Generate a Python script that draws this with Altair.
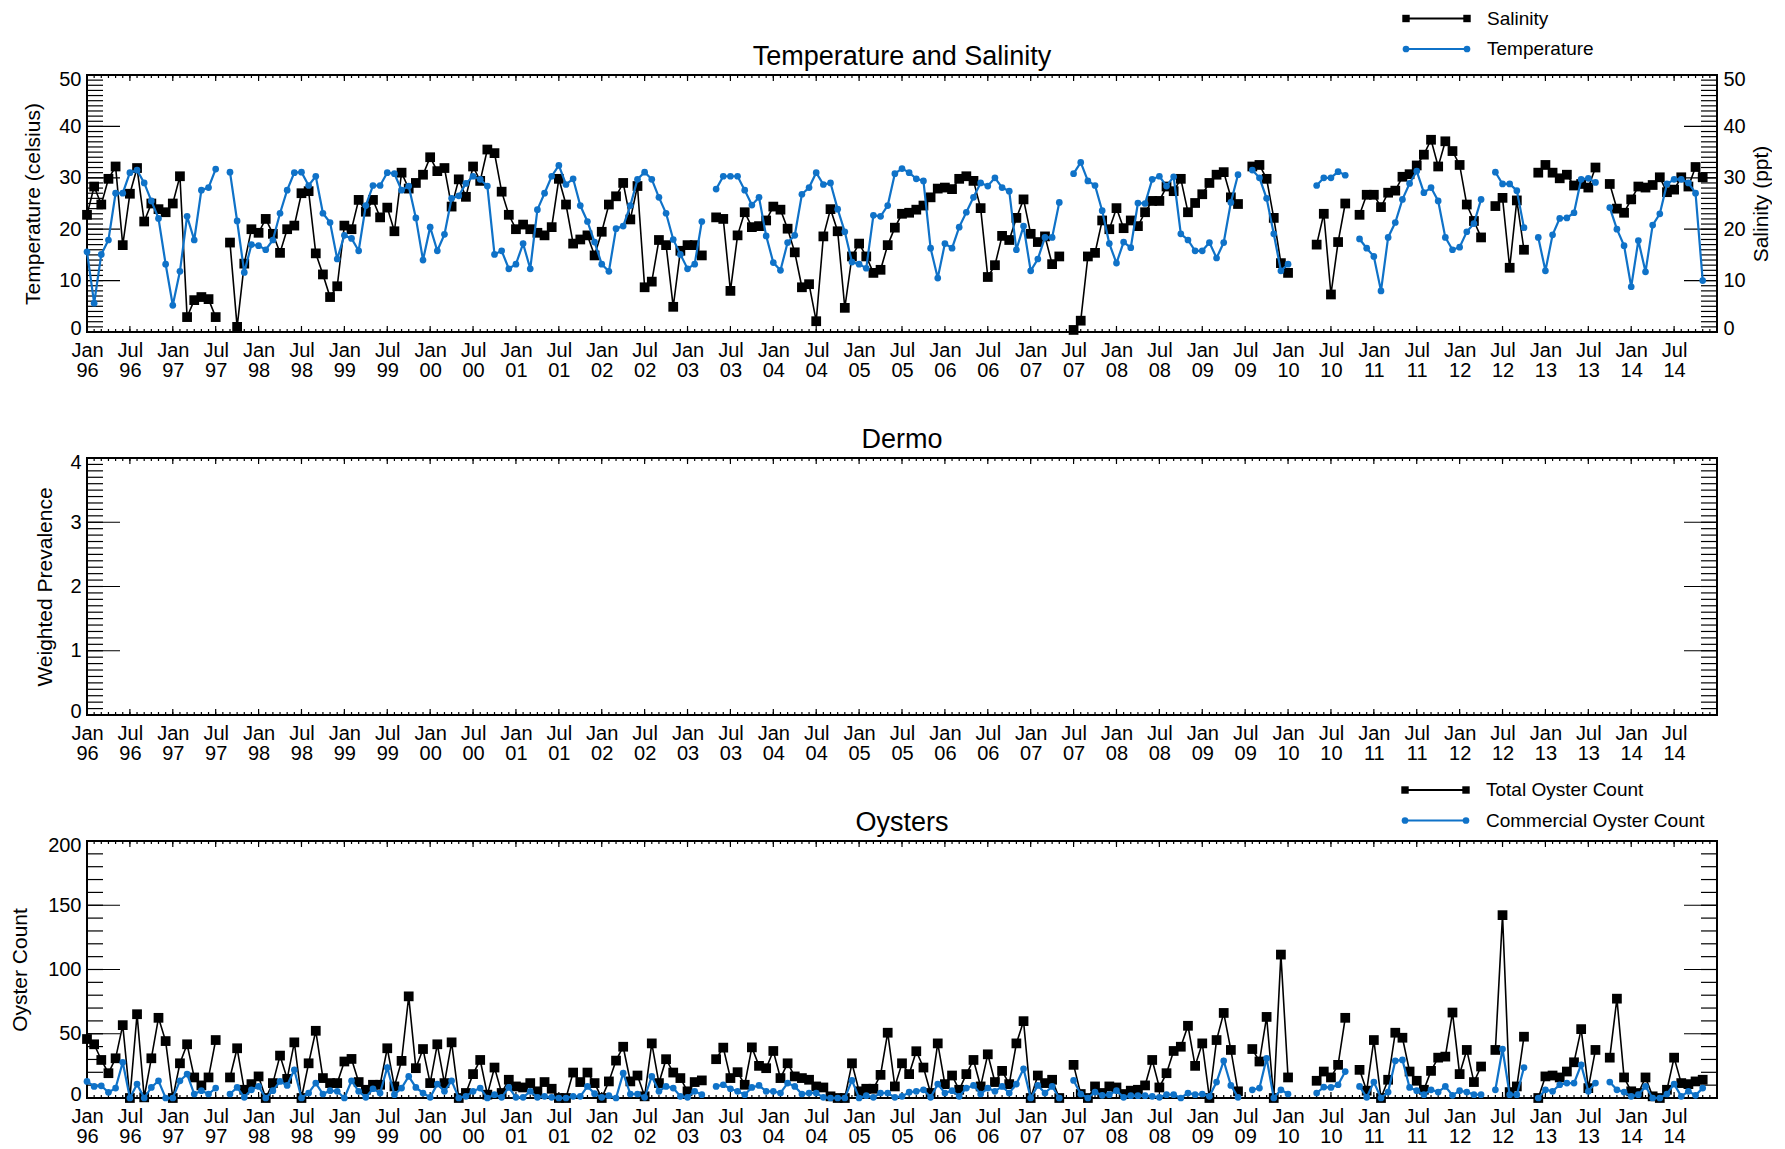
import json
import altair as alt
import pandas as pd
import numpy as np

# ---------------- data (monthly, Jan 1996 .. Dec 2014; None = no sample) ----------------
START_YEAR = 1996
N_MONTHS = 228

SALINITY = [
    22.8, 28.3, 24.8, 29.8, 32.2, 16.9, 26.9, 31.9, 21.5, 25.0, 23.9, 23.3,   # 1996
    25.0, 30.3, 2.9, 6.2, 6.8, 6.4, 2.9, None, 17.4, 1.0, 13.3, 20.0,         # 1997
    19.3, 22.0, 19.1, 15.4, 20.0, 20.7, 27.0, 27.4, 15.3, 11.2, 6.8, 8.9,     # 1998
    20.7, 20.0, 25.7, 23.4, 25.7, 22.3, 24.2, 19.6, 31.0, 27.9, 29.0, 30.6,   # 1999
    34.0, 31.3, 31.9, 24.4, 29.7, 26.3, 32.2, 29.4, 35.5, 34.8, 27.3, 22.8,   # 2000
    20.0, 20.9, 20.0, 19.3, 18.8, 20.4, 29.8, 24.8, 17.2, 18.0, 18.8, 14.9,   # 2001
    19.5, 24.8, 26.4, 29.0, 21.9, 28.4, 8.7, 9.8, 17.9, 16.9, 4.9, 15.8,      # 2002
    16.9, 16.9, 14.9, None, 22.3, 22.0, 8.0, 18.8, 23.3, 20.4, 20.6, 21.7,    # 2003
    24.4, 23.8, 20.1, 15.5, 8.7, 9.3, 2.1, 18.6, 23.9, 19.6, 4.7, 14.7,       # 2004
    17.2, 14.7, 11.5, 12.1, 16.9, 20.3, 23.0, 23.2, 23.8, 24.6, 26.2, 27.9,   # 2005
    28.1, 27.8, 29.8, 30.3, 29.4, 24.1, 10.7, 13.0, 18.7, 17.9, 22.2, 25.8,   # 2006
    19.1, 17.5, 18.6, 13.2, 14.7, None, 0.4, 2.2, 14.7, 15.4, 21.7, 20.0,     # 2007
    24.1, 20.2, 21.7, 20.6, 23.3, 25.5, 25.5, 28.3, 27.4, 29.8, 23.3, 25.1,   # 2008
    26.8, 29.0, 30.6, 31.1, 26.2, 24.9, None, 32.2, 32.5, 29.8, 22.2, 13.4,   # 2009
    11.5, None, None, None, 17.0, 23.0, 7.3, 17.5, 25.0, None, 22.8, 26.7,    # 2010
    26.7, 24.3, 27.1, 27.5, 30.2, 30.7, 32.4, 34.5, 37.4, 32.2, 37.1, 35.2,   # 2011
    32.5, 24.8, 21.6, 18.4, None, 24.5, 26.1, 12.5, 25.6, 16.0, None, 31.0,   # 2012
    32.5, 31.0, 29.9, 30.6, 28.5, 28.8, 28.1, 32.0, None, 28.8, 24.0, 23.2,   # 2013
    25.8, 28.3, 28.1, 28.6, 30.1, 27.2, 27.7, 30.1, 28.3, 32.1, 30.1, None,   # 2014
]

TEMPERATURE = [
    15.6, 5.6, 15.1, 17.9, 27.0, 27.0, 31.0, 31.5, 29.0, 25.5, 22.1, 13.2,    # 1996
    5.2, 11.8, 22.5, 17.9, 27.6, 28.1, 31.7, None, 31.1, 21.6, 11.6, 17.0,    # 1997
    16.8, 16.0, 17.9, 23.1, 27.6, 31.0, 31.1, 28.5, 30.3, 23.1, 21.3, 14.2,   # 1998
    18.8, 18.2, 15.8, 24.6, 28.5, 28.5, 31.0, 30.8, 27.6, 28.4, 22.2, 14.0,   # 1999
    20.4, 15.8, 19.0, 26.0, 26.5, 28.9, 30.3, 29.7, 28.4, 15.1, 15.8, 12.3,   # 2000
    13.2, 17.2, 12.3, 23.8, 27.0, 30.3, 32.4, 28.7, 29.8, 24.6, 21.5, 17.5,   # 2001
    13.2, 11.8, 20.1, 20.6, 24.6, 29.7, 31.1, 29.7, 26.2, 23.1, 18.0, 15.1,   # 2002
    12.3, 13.2, 21.5, None, 27.8, 30.3, 30.3, 30.3, 27.6, 24.7, 26.2, 18.7,   # 2003
    13.5, 12.0, 17.4, 18.8, 26.8, 28.1, 31.0, 28.7, 29.0, 23.9, 19.5, 13.6,   # 2004
    13.2, 12.4, 22.7, 22.5, 24.6, 30.8, 31.8, 31.0, 29.8, 29.4, 16.3, 10.5,   # 2005
    17.2, 16.3, 20.4, 23.3, 26.2, 29.0, 28.4, 30.0, 28.1, 27.4, 16.0, 20.6,   # 2006
    11.9, 14.2, 18.4, 18.4, 25.2, None, 30.8, 33.0, 29.4, 28.5, 23.6, 17.2,   # 2007
    13.4, 17.5, 16.4, 25.1, 25.0, 29.7, 30.3, 28.4, 30.2, 19.1, 17.9, 15.8,   # 2008
    15.8, 17.4, 14.4, 17.4, 25.2, 30.6, None, 31.5, 30.0, 26.0, 19.1, 11.9,   # 2009
    13.2, None, None, None, 28.5, 30.0, 30.0, 31.2, 30.5, None, 18.1, 16.3,   # 2010
    14.7, 8.0, 18.4, 21.3, 25.8, 28.9, 31.3, 27.1, 28.1, 25.5, 18.4, 16.0,    # 2011
    16.5, 19.5, 21.1, 25.8, None, 31.1, 28.8, 28.8, 27.5, 20.3, None, 18.4,   # 2012
    11.9, 18.9, 22.1, 22.2, 23.2, 29.7, 29.9, 29.1, None, 24.2, 20.0, 16.8,   # 2013
    8.8, 17.8, 11.7, 20.8, 23.0, 28.8, 29.7, 29.7, 29.0, 27.0, 10.0, None,    # 2014
]

TOTAL_COUNT = [
    45.9, 41.8, 29.6, 19.3, 30.9, 56.7, 0.0, 65.2, 0.5, 30.9, 62.4, 44.3,     # 1996
    0.0, 27.0, 41.8, 16.0, 9.8, 16.0, 45.1, None, 16.0, 38.7, 6.4, 10.8,      # 1997
    16.8, 0.0, 11.6, 33.0, 14.9, 43.3, 0.0, 27.0, 52.3, 15.5, 11.6, 11.6,     # 1998
    28.4, 30.4, 12.4, 6.4, 10.3, 10.3, 38.7, 9.0, 28.9, 79.1, 23.2, 38.1,     # 1999
    11.6, 41.8, 11.6, 43.3, 0.0, 3.9, 18.6, 29.6, 2.6, 23.7, 3.9, 14.2,       # 2000
    9.0, 8.2, 11.6, 5.2, 12.4, 7.2, 0.0, 0.0, 19.8, 12.4, 19.8, 11.6,         # 2001
    0.0, 12.9, 29.1, 39.9, 12.9, 17.5, 1.3, 42.5, 11.6, 30.2, 19.8, 15.5,     # 2002
    5.2, 12.4, 13.7, None, 30.2, 39.2, 15.5, 20.1, 10.3, 39.4, 25.0, 23.2,    # 2003
    36.6, 15.5, 27.0, 16.8, 15.5, 14.2, 9.0, 8.2, 1.3, 0.0, 0.0, 27.0,        # 2004
    5.2, 7.2, 7.2, 18.0, 50.8, 9.0, 27.0, 18.6, 36.4, 23.7, 3.9, 42.5,        # 2005
    10.8, 17.5, 6.4, 18.6, 29.6, 9.0, 34.0, 12.4, 21.1, 10.8, 42.5, 59.8,     # 2006
    0.0, 17.5, 11.6, 14.2, 0.0, None, 25.8, 3.1, 0.0, 9.0, 3.9, 9.0,          # 2007
    8.2, 3.1, 5.7, 6.4, 9.8, 29.6, 8.2, 19.3, 36.6, 39.9, 56.2, 25.0,         # 2008
    42.5, 0.0, 45.1, 66.2, 37.4, 5.2, None, 38.1, 28.4, 63.1, 0.0, 111.6,     # 2009
    16.0, None, None, None, 13.4, 20.6, 16.0, 25.8, 62.4, None, 21.9, 5.7,    # 2010
    45.1, 0.0, 14.2, 50.8, 46.9, 20.6, 13.4, 6.4, 21.1, 31.4, 32.2, 66.5,     # 2011
    18.6, 37.4, 12.4, 24.5, None, 37.4, 142.3, 4.6, 9.0, 47.7, None, 0.0,     # 2012
    16.8, 17.5, 16.0, 20.6, 27.8, 53.6, 7.7, 37.4, None, 31.4, 77.3, 16.0,    # 2013
    5.2, 3.9, 16.0, 1.3, 0.0, 6.4, 31.4, 11.6, 10.8, 12.9, 14.2, None,        # 2014
]

COMMERCIAL_COUNT = [
    12.9, 9.0, 9.5, 4.4, 7.7, 27.8, 0.0, 10.8, 0.0, 8.2, 13.4, 0.0,           # 1996
    0.0, 13.4, 18.6, 3.1, 5.7, 3.1, 7.7, None, 3.1, 8.2, 0.5, 6.4,            # 1997
    9.0, 0.0, 5.7, 12.9, 9.8, 21.9, 0.0, 3.9, 11.6, 3.1, 5.7, 5.2,            # 1998
    0.0, 13.4, 5.2, 0.5, 7.2, 3.9, 23.7, 2.6, 7.7, 16.8, 8.2, 3.9,            # 1999
    0.5, 10.8, 5.2, 13.4, 0.0, 1.3, 5.2, 7.7, 0.0, 2.6, 0.5, 8.2,             # 2000
    0.5, 0.5, 5.2, 0.5, 1.3, 0.5, 0.0, 0.0, 1.3, 1.3, 9.0, 3.4,               # 2001
    0.5, 1.8, 0.0, 19.3, 3.1, 3.1, 0.5, 16.8, 5.2, 9.0, 7.7, 1.3,             # 2002
    0.5, 5.2, 2.6, None, 9.0, 10.3, 7.2, 5.2, 2.6, 8.2, 9.8, 5.2,             # 2003
    5.2, 3.9, 11.6, 9.0, 3.1, 3.9, 3.9, 0.5, 0.0, 0.0, 0.0, 13.7,             # 2004
    0.0, 1.8, 0.5, 3.9, 3.9, 0.5, 1.3, 4.5, 5.2, 6.4, 0.5, 10.8,              # 2005
    3.9, 5.7, 1.3, 7.7, 9.8, 3.1, 7.7, 5.2, 9.0, 3.9, 10.8, 22.7,             # 2006
    0.0, 9.8, 3.9, 9.0, 0.0, None, 13.7, 3.1, 0.0, 4.6, 2.1, 2.6,             # 2007
    5.7, 0.5, 1.8, 1.8, 1.8, 1.3, 0.5, 2.6, 2.6, 0.0, 3.9, 2.6,               # 2008
    3.1, 1.3, 12.4, 28.9, 9.8, 0.5, None, 6.4, 7.7, 30.9, 0.0, 6.4,           # 2009
    3.1, None, None, None, 3.9, 8.5, 8.2, 10.3, 20.6, None, 9.0, 0.5,         # 2010
    12.4, 0.0, 4.6, 28.9, 29.6, 8.2, 5.7, 2.6, 6.4, 4.6, 9.0, 2.1,            # 2011
    5.7, 4.6, 2.6, 2.6, None, 6.4, 38.1, 2.6, 2.6, 23.7, None, 0.0,           # 2012
    6.4, 5.2, 10.3, 11.6, 11.6, 25.8, 5.2, 11.6, None, 12.4, 6.4, 4.6,        # 2013
    1.3, 2.6, 9.0, 0.0, 0.0, 3.1, 10.8, 1.3, 5.2, 2.1, 7.7, None,             # 2014
]

TICK_LABELS = []
for _y in range(START_YEAR, START_YEAR + N_MONTHS // 12):
    TICK_LABELS += [f"Jan|{_y % 100:02d}", f"Jul|{_y % 100:02d}"]

for _s in (SALINITY, TEMPERATURE, TOTAL_COUNT, COMMERCIAL_COUNT):
    assert len(_s) == N_MONTHS, len(_s)

# ---------------- styling ----------------
FONT = "Liberation Sans"
BLUE = "#0f72c8"
W = 1630
H = 257


def series_df(vals):
    rows, seg = [], 0
    for m, v in enumerate(vals):
        if v is None:
            seg += 1
            continue
        rows.append({"m": m, "v": v, "seg": seg})
    return pd.DataFrame(rows)


XSCALE = alt.Scale(domain=[0, N_MONTHS], nice=False, zero=False)
XAXIS = alt.Axis(
    values=list(range(0, N_MONTHS, 6)),
    labelExpr="split(" + json.dumps(TICK_LABELS) + "[round(datum.value / 6)], '|')",
    ticks=False, tickSize=0, domain=False, grid=False, title=None,
    labelPadding=8, labelFontSize=20, labelLineHeight=20,
    labelFlush=False, labelOverlap=False, labelBound=False,
    labelAlign="center", labelBaseline="top",
)


def yaxis(values, title, orient, title_x):
    return alt.Axis(
        values=values, orient=orient, title=title, format="d",
        ticks=False, tickSize=0, domain=False, grid=False,
        labelPadding=6, labelFontSize=20, labelFlush=True, labelFlushOffset=6,
        titleFontSize=21, titleFontWeight="normal",
        titleX=title_x, titleY=H / 2, titleAngle=270,
        titleBaseline="middle", titleAlign="center",
    )


def ysc(lo, hi):
    return alt.Scale(domain=[lo, hi], nice=False, zero=False)


def frame_ticks(lo, hi, minor, major, axis):
    layers = []
    vmin = pd.DataFrame({"v": np.round(np.arange(lo, hi + minor / 2, minor), 6)})
    vmaj = pd.DataFrame({"v": np.round(np.arange(lo, hi + major / 2, major), 6)})
    first = True
    for df, L in ((vmin, 16), (vmaj, 33)):
        for x0, x1 in ((0, L), (W, W - L)):
            ax = axis if first else None
            first = False
            layers.append(
                alt.Chart(df).mark_rule(color="black", strokeWidth=1.2).encode(
                    y=alt.Y("v:Q", scale=ysc(lo, hi), axis=ax),
                    x=alt.value(x0), x2=alt.value(x1),
                )
            )
    mdf = pd.DataFrame({"m": np.arange(0, N_MONTHS + 1)})
    jdf = pd.DataFrame({"m": np.arange(0, N_MONTHS + 1, 6)})
    for df, L in ((mdf, 3), (jdf, 6)):
        for y0, y1 in ((0, L), (H, H - L)):
            layers.append(
                alt.Chart(df).mark_rule(color="black", strokeWidth=1.2).encode(
                    x=alt.X("m:Q", scale=XSCALE, axis=XAXIS),
                    y=alt.value(y0), y2=alt.value(y1),
                )
            )
    return layers


def series_layers(vals, lo, hi, color, shape, size, width, axis):
    df = series_df(vals)
    line = alt.Chart(df).mark_line(color=color, strokeWidth=width).encode(
        x=alt.X("m:Q", scale=XSCALE, axis=XAXIS),
        y=alt.Y("v:Q", scale=ysc(lo, hi), axis=axis),
        detail="seg:N",
    )
    pts = alt.Chart(df).mark_point(shape=shape, filled=True, size=size, color=color, opacity=1).encode(
        x=alt.X("m:Q", scale=XSCALE, axis=XAXIS),
        y=alt.Y("v:Q", scale=ysc(lo, hi), axis=None),
    )
    return [line, pts]


def legend_entry(label, y, color, shape, size, x0=1319, x1=1380, tx=1400):
    base = alt.Chart(pd.DataFrame({"label": [label]}))
    return [
        base.mark_rule(color=color, strokeWidth=1.8).encode(
            x=alt.value(x0), x2=alt.value(x1), y=alt.value(y)),
        base.mark_point(shape=shape, filled=True, size=size, color=color, opacity=1).encode(
            x=alt.value(x0), y=alt.value(y)),
        base.mark_point(shape=shape, filled=True, size=size, color=color, opacity=1).encode(
            x=alt.value(x1), y=alt.value(y)),
        base.mark_text(align="left", baseline="middle", font=FONT, fontSize=19, color="black").encode(
            x=alt.value(tx), y=alt.value(y), text="label:N"),
    ]


def panel_title(text):
    return alt.Chart(pd.DataFrame({"t": [text]})).mark_text(
        align="center", baseline="alphabetic", font=FONT, fontSize=27, color="black"
    ).encode(x=alt.value(W / 2), y=alt.value(-10), text="t:N")


# ---------------- panel 1: temperature & salinity ----------------
p1_layers = frame_ticks(0, 50, 1, 10, None)
p1_layers += series_layers(SALINITY, 0, 50, "black", "square", 95, 1.6,
                           yaxis([0, 10, 20, 30, 40, 50], "Salinity (ppt)", "right", 44))
p1_layers += series_layers(TEMPERATURE, 0, 50, BLUE, "circle", 45, 2.2,
                           yaxis([0, 10, 20, 30, 40, 50], "Temperature (celsius)", "left", -54))
p1_layers += legend_entry("Salinity", -56.5, "black", "square", 55)
p1_layers += legend_entry("Temperature", -26, BLUE, "circle", 45)
p1_layers.append(panel_title("Temperature and Salinity"))
p1 = alt.layer(*p1_layers).resolve_scale(y="independent").properties(width=W, height=H)

# ---------------- panel 2: dermo (no data) ----------------
p2_layers = frame_ticks(0, 4, 0.1, 1, yaxis([0, 1, 2, 3, 4], "Weighted Prevalence", "left", -42))
p2_layers.append(panel_title("Dermo"))
p2 = alt.layer(*p2_layers).resolve_scale(y="independent").properties(width=W, height=H)

# ---------------- panel 3: oysters ----------------
p3_layers = frame_ticks(0, 200, 10, 50, None)
p3_layers += series_layers(TOTAL_COUNT, 0, 200, "black", "square", 95, 1.6,
                           yaxis([0, 50, 100, 150, 200], "Oyster Count", "left", -67))
p3_layers += series_layers(COMMERCIAL_COUNT, 0, 200, BLUE, "circle", 45, 2.2, None)
p3_layers += legend_entry("Total Oyster Count", -51, "black", "square", 55, 1318, 1379, 1399)
p3_layers += legend_entry("Commercial Oyster Count", -20.5, BLUE, "circle", 45, 1318, 1379, 1399)
p3_layers.append(panel_title("Oysters"))
p3 = alt.layer(*p3_layers).resolve_scale(y="independent").properties(width=W, height=H)

chart = (
    alt.vconcat(p1, p2, p3, spacing=126, bounds="flush")
    .properties(padding=0, background="white")
    .configure_view(stroke="black", strokeWidth=2)
    .configure_axis(labelFont=FONT, titleFont=FONT, labelColor="black", titleColor="black")
)

chart.save("out.html", embed_options={"renderer": "svg", "actions": False})
